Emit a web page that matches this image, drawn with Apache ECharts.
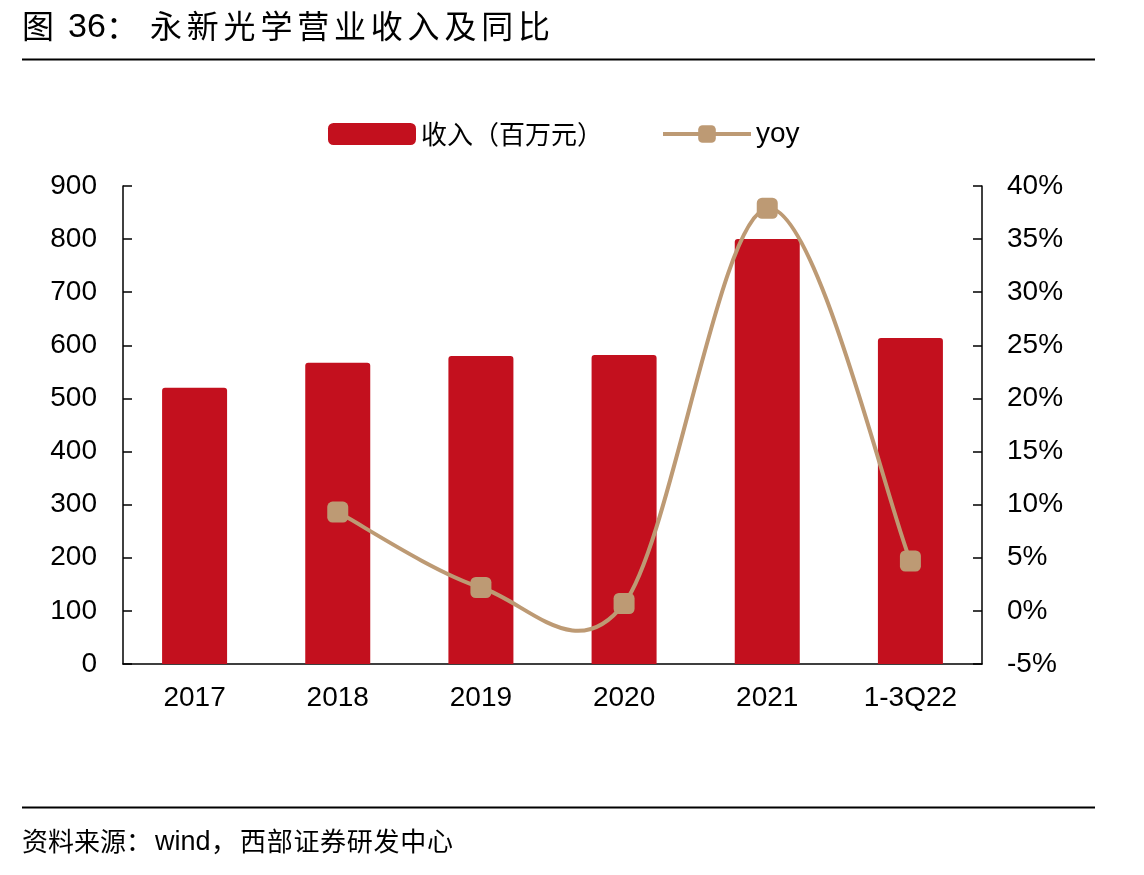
<!DOCTYPE html>
<html>
<head>
<meta charset="utf-8">
<script src="https://cdn.jsdelivr.net/npm/echarts@6/dist/echarts.min.js"></script>
<style>
html,body{margin:0;padding:0;background:#fff;}
#c{width:1144px;height:875px;}
</style>
</head>
<body>
<div id="c"></div>
<script>
const categories = ['2017', '2018', '2019', '2020', '2021', '1-3Q22'];
const revenue = [520, 567, 580, 582, 800, 614];
const yoy = [null, 9.3, 2.2, 0.7, 37.9, 4.7];
const leftTicks = { min: 0, max: 900, interval: 100 };
const rightTicks = { min: -5, max: 40, interval: 5 };

const CJK = '"Noto Sans CJK SC", sans-serif';
const LAT = '"Liberation Sans", Arial, sans-serif';
const LINE_COLOR = '#BD9A74';
const BAR_COLOR = '#C3101E';

const chart = echarts.init(document.getElementById('c'));

const graphics = [];
graphics.push({ type: 'text', left: 22, top: 10, style: { text: '图', font: '32px ' + CJK, fill: '#000' } });
graphics.push({ type: 'text', left: 68, top: 11, style: { text: '36', font: '34px ' + LAT, fill: '#000' } });
graphics.push({ type: 'text', left: 106, top: 10, style: { text: '：', font: '32px ' + CJK, fill: '#000' } });
const titleRest = '永新光学营业收入及同比';
for (let i = 0; i < titleRest.length; i++) {
  graphics.push({ type: 'text', left: 150 + i * 36.8, top: 10, style: { text: titleRest[i], font: '32px ' + CJK, fill: '#000' } });
}
graphics.push({ type: 'rect', shape: { x: 22, y: 58.5, width: 1073, height: 2 }, style: { fill: '#000' } });
graphics.push({ type: 'rect', shape: { x: 22, y: 806.5, width: 1073, height: 2 }, style: { fill: '#000' } });
const src1 = '资料来源：';
for (let i = 0; i < src1.length; i++) {
  graphics.push({ type: 'text', left: 22 + i * 26, top: 828, style: { text: src1[i], font: '26px ' + CJK, fill: '#000' } });
}
graphics.push({ type: 'text', left: 155, top: 829, style: { text: 'wind', font: '27px ' + LAT, fill: '#000' } });
graphics.push({ type: 'text', left: 211, top: 828, style: { text: '，', font: '26px ' + CJK, fill: '#000' } });
const src2 = '西部证券研发中心';
for (let i = 0; i < src2.length; i++) {
  graphics.push({ type: 'text', left: 240 + i * 26.7, top: 828, style: { text: src2[i], font: '26px ' + CJK, fill: '#000' } });
}

// Excel-like (Catmull-Rom) smoothed curve drawn through the axes' coordinate system
function renderCurve(params, api) {
  const i = params.dataIndexInside, n = params.dataInsideLength;
  const pt = j => {
    if (j < 0 || j >= n) return null;
    const v = api.value(1, j);
    if (v == null || isNaN(v)) return null;
    return api.coord([api.value(0, j), v]);
  };
  const p1 = pt(i), p2 = pt(i + 1);
  if (!p1 || !p2) return null;
  const p0 = pt(i - 1) || p1, p3 = pt(i + 2) || p2;
  return {
    type: 'bezierCurve',
    shape: {
      x1: p1[0], y1: p1[1], x2: p2[0], y2: p2[1],
      cpx1: p1[0] + (p2[0] - p0[0]) / 6, cpy1: p1[1] + (p2[1] - p0[1]) / 6,
      cpx2: p2[0] - (p3[0] - p1[0]) / 6, cpy2: p2[1] - (p3[1] - p1[1]) / 6
    },
    style: { stroke: LINE_COLOR, lineWidth: 4, fill: null, lineCap: 'round' }
  };
}

chart.setOption({
  animation: false,
  backgroundColor: '#fff',
  graphic: graphics,
  legend: {
    left: 323,
    top: 115,
    itemWidth: 88,
    itemHeight: 22,
    itemGap: 58,
    textStyle: { fontSize: 26, fontFamily: CJK, color: '#000' },
    data: [
      { name: '收入（百万元）', icon: 'roundRect' },
      { name: 'yoy', textStyle: { fontFamily: LAT, fontSize: 28 }, lineStyle: { width: 4, opacity: 1, color: LINE_COLOR } }
    ]
  },
  grid: { left: 123, right: 162, top: 186, bottom: 211, containLabel: false },
  xAxis: {
    type: 'category',
    data: categories,
    axisLine: { lineStyle: { color: '#000', width: 1.5 } },
    axisTick: { inside: true, length: 9, lineStyle: { color: '#000', width: 1.5 } },
    axisLabel: { fontSize: 28, fontFamily: LAT, color: '#000', margin: 20 }
  },
  yAxis: [
    {
      type: 'value',
      min: leftTicks.min, max: leftTicks.max, interval: leftTicks.interval,
      axisLine: { show: true, lineStyle: { color: '#000', width: 1.5 } },
      axisTick: { show: true, inside: true, length: 9, lineStyle: { color: '#000', width: 1.5 } },
      splitLine: { show: false },
      axisLabel: { fontSize: 28, fontFamily: LAT, color: '#000', margin: 26 }
    },
    {
      type: 'value',
      min: rightTicks.min, max: rightTicks.max, interval: rightTicks.interval,
      axisLine: { show: true, lineStyle: { color: '#000', width: 1.5 } },
      axisTick: { show: true, inside: true, length: 9, lineStyle: { color: '#000', width: 1.5 } },
      splitLine: { show: false },
      axisLabel: { fontSize: 28, fontFamily: LAT, color: '#000', margin: 25, formatter: '{value}%' }
    }
  ],
  series: [
    {
      name: '收入（百万元）',
      type: 'bar',
      data: revenue,
      barWidth: 65,
      itemStyle: { color: BAR_COLOR, borderRadius: [3, 3, 0, 0] }
    },
    {
      name: 'yoy-curve',
      type: 'custom',
      yAxisIndex: 1,
      data: yoy.map((v, i) => [i, v == null ? NaN : v]),
      renderItem: renderCurve,
      z: 3
    },
    {
      name: 'yoy',
      type: 'line',
      yAxisIndex: 1,
      data: yoy,
      symbol: 'roundRect',
      symbolSize: 21,
      lineStyle: { color: LINE_COLOR, width: 4, opacity: 0 },
      itemStyle: { color: LINE_COLOR },
      z: 4
    }
  ]
});
</script>
</body>
</html>
